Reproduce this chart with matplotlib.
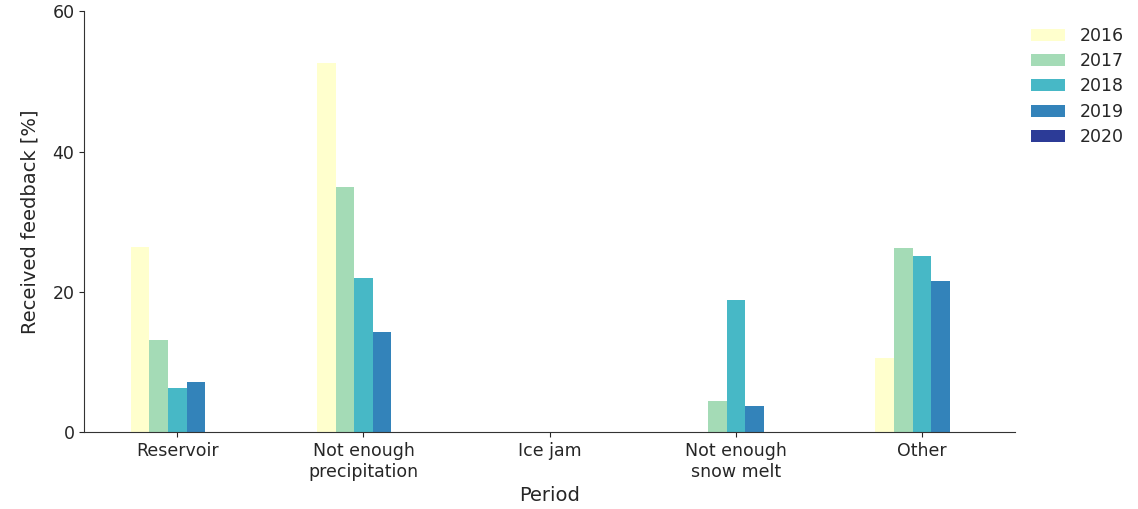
import matplotlib

matplotlib.use("Agg")
import matplotlib.pyplot as plt
import numpy as np

categories = ["Reservoir", "Not enough\nprecipitation", "Ice jam", "Not enough\nsnow melt", "Other"]
years = ["2016", "2017", "2018", "2019", "2020"]
values = {
    "2016": [26.4, 52.6, 0.0, 0.0, 10.6],
    "2017": [13.1, 34.9, 0.0, 4.4, 26.2],
    "2018": [6.3, 21.9, 0.0, 18.8, 25.1],
    "2019": [7.2, 14.3, 0.0, 3.7, 21.5],
    "2020": [0.0, 0.0, 0.0, 0.0, 0.0],
}
colors = ["#ffffcc", "#a1dab4", "#41b6c4", "#2c7fb8", "#253494"]

plt.rcParams["font.size"] = 12.5
plt.rcParams["text.color"] = "#262626"
plt.rcParams["axes.labelcolor"] = "#262626"
plt.rcParams["xtick.color"] = "#262626"
plt.rcParams["ytick.color"] = "#262626"

fig = plt.figure(figsize=(11.38, 5.09), dpi=100)
ax = fig.add_axes([0.074, 0.151, 0.818, 0.827])

x = np.arange(len(categories))
width = 0.1
for i, (year, color) in enumerate(zip(years, colors)):
    ax.bar(x + (i - 2) * width, values[year], width=width, color=color, alpha=0.97, label=year)

ax.set_xticks(x)
ax.set_xticklabels(categories)
ax.set_xlim(-0.5, 4.5)
ax.set_ylim(0, 60)
ax.set_yticks([0, 20, 40, 60])
ax.set_xlabel("Period", fontsize=14)
ax.set_ylabel("Received feedback [%]", fontsize=14, labelpad=9)
for side in ["top", "right"]:
    ax.spines[side].set_visible(False)
for side in ["left", "bottom"]:
    ax.spines[side].set_color("#333333")
ax.legend(loc="upper left", bbox_to_anchor=(1.0, 1.0), frameon=False, labelspacing=0.42)

fig.savefig("out.png")
